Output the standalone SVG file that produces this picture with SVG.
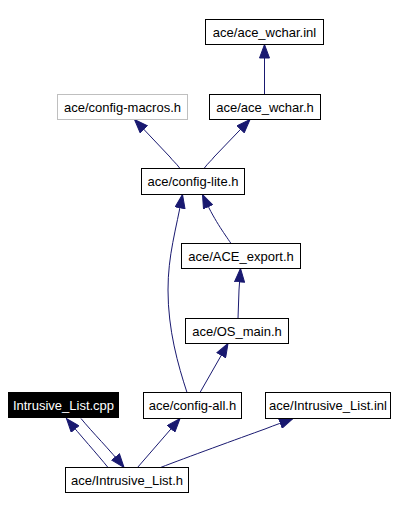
<svg xmlns="http://www.w3.org/2000/svg" width="400" height="510" viewBox="0 0 400 510">
<style>
.n rect{fill:#fff;stroke:#000;stroke-width:1}
.n text{font-family:"Liberation Sans",Arial,sans-serif;font-size:13px;text-anchor:middle;fill:#000}
#n_macros rect{stroke:#bfbfbf}
#n_cpp rect{fill:#000}
#n_cpp text{fill:#fff}
.e path{fill:none;stroke:#191970;stroke-width:1;marker-end:url(#arr)}
</style>
<defs>
<marker id="arr" markerWidth="15" markerHeight="11" refX="14" refY="5.5" orient="auto" markerUnits="userSpaceOnUse">
<path d="M0.5,0.5 L14,5.5 L0.5,10.5 z" fill="#191970" stroke="#191970" stroke-width="1"/>
</marker>
</defs>
<rect width="400" height="510" fill="#fff"/>
<g id="edges" class="e">
<path d="M264.5,94.5 L264.5,44.5"/>
<path d="M180,168.5 C176,163 172,160 170,157 L134.5,119.5"/>
<path d="M204,168.5 C208,163 212,160 214,157 L250,119.5"/>
<path d="M231,243.5 C224,233 214,220 202.5,194.5"/>
<path d="M187,392.5 C178,365 168,330 168,290 C168,255 176,230 182.5,194.5"/>
<path d="M238,318.5 L239,290 L240.5,268.5"/>
<path d="M200,392.5 L228,343.5"/>
<path d="M108,467.5 C98,455 80,435 66.5,418.5"/>
<path d="M81,418.5 C92,432 110,450 124,467.5"/>
<path d="M137.5,467.5 L180,418.5"/>
<path d="M160.5,467.5 C185,458 240,438 265,429 C275,425 284,422 293,418.5"/>
</g>
<g id="n_wchar_inl" class="n"><rect x="205.5" y="19.5" width="118" height="25"/><text x="264.5" y="37">ace/ace_wchar.inl</text></g>
<g id="n_macros" class="n"><rect x="57.5" y="94.5" width="130" height="25"/><text x="122.5" y="112">ace/config-macros.h</text></g>
<g id="n_wchar_h" class="n"><rect x="209.5" y="94.5" width="111" height="25"/><text x="265" y="112">ace/ace_wchar.h</text></g>
<g id="n_lite" class="n"><rect x="141.5" y="168.5" width="103" height="26"/><text x="193" y="186">ace/config-lite.h</text></g>
<g id="n_export" class="n"><rect x="181.5" y="243.5" width="119" height="25"/><text x="241" y="261">ace/ACE_export.h</text></g>
<g id="n_osmain" class="n"><rect x="185.5" y="318.5" width="103" height="25"/><text x="237" y="336">ace/OS_main.h</text></g>
<g id="n_cpp" class="n"><rect x="8.5" y="392.5" width="110" height="25"/><text x="63.5" y="410">Intrusive_List.cpp</text></g>
<g id="n_all" class="n"><rect x="143.5" y="392.5" width="98" height="26"/><text x="192.5" y="410">ace/config-all.h</text></g>
<g id="n_inl" class="n"><rect x="265.5" y="392.5" width="125" height="26"/><text x="328" y="410">ace/Intrusive_List.inl</text></g>
<g id="n_h" class="n"><rect x="65.5" y="467.5" width="123" height="25"/><text x="127" y="485">ace/Intrusive_List.h</text></g>
</svg>
